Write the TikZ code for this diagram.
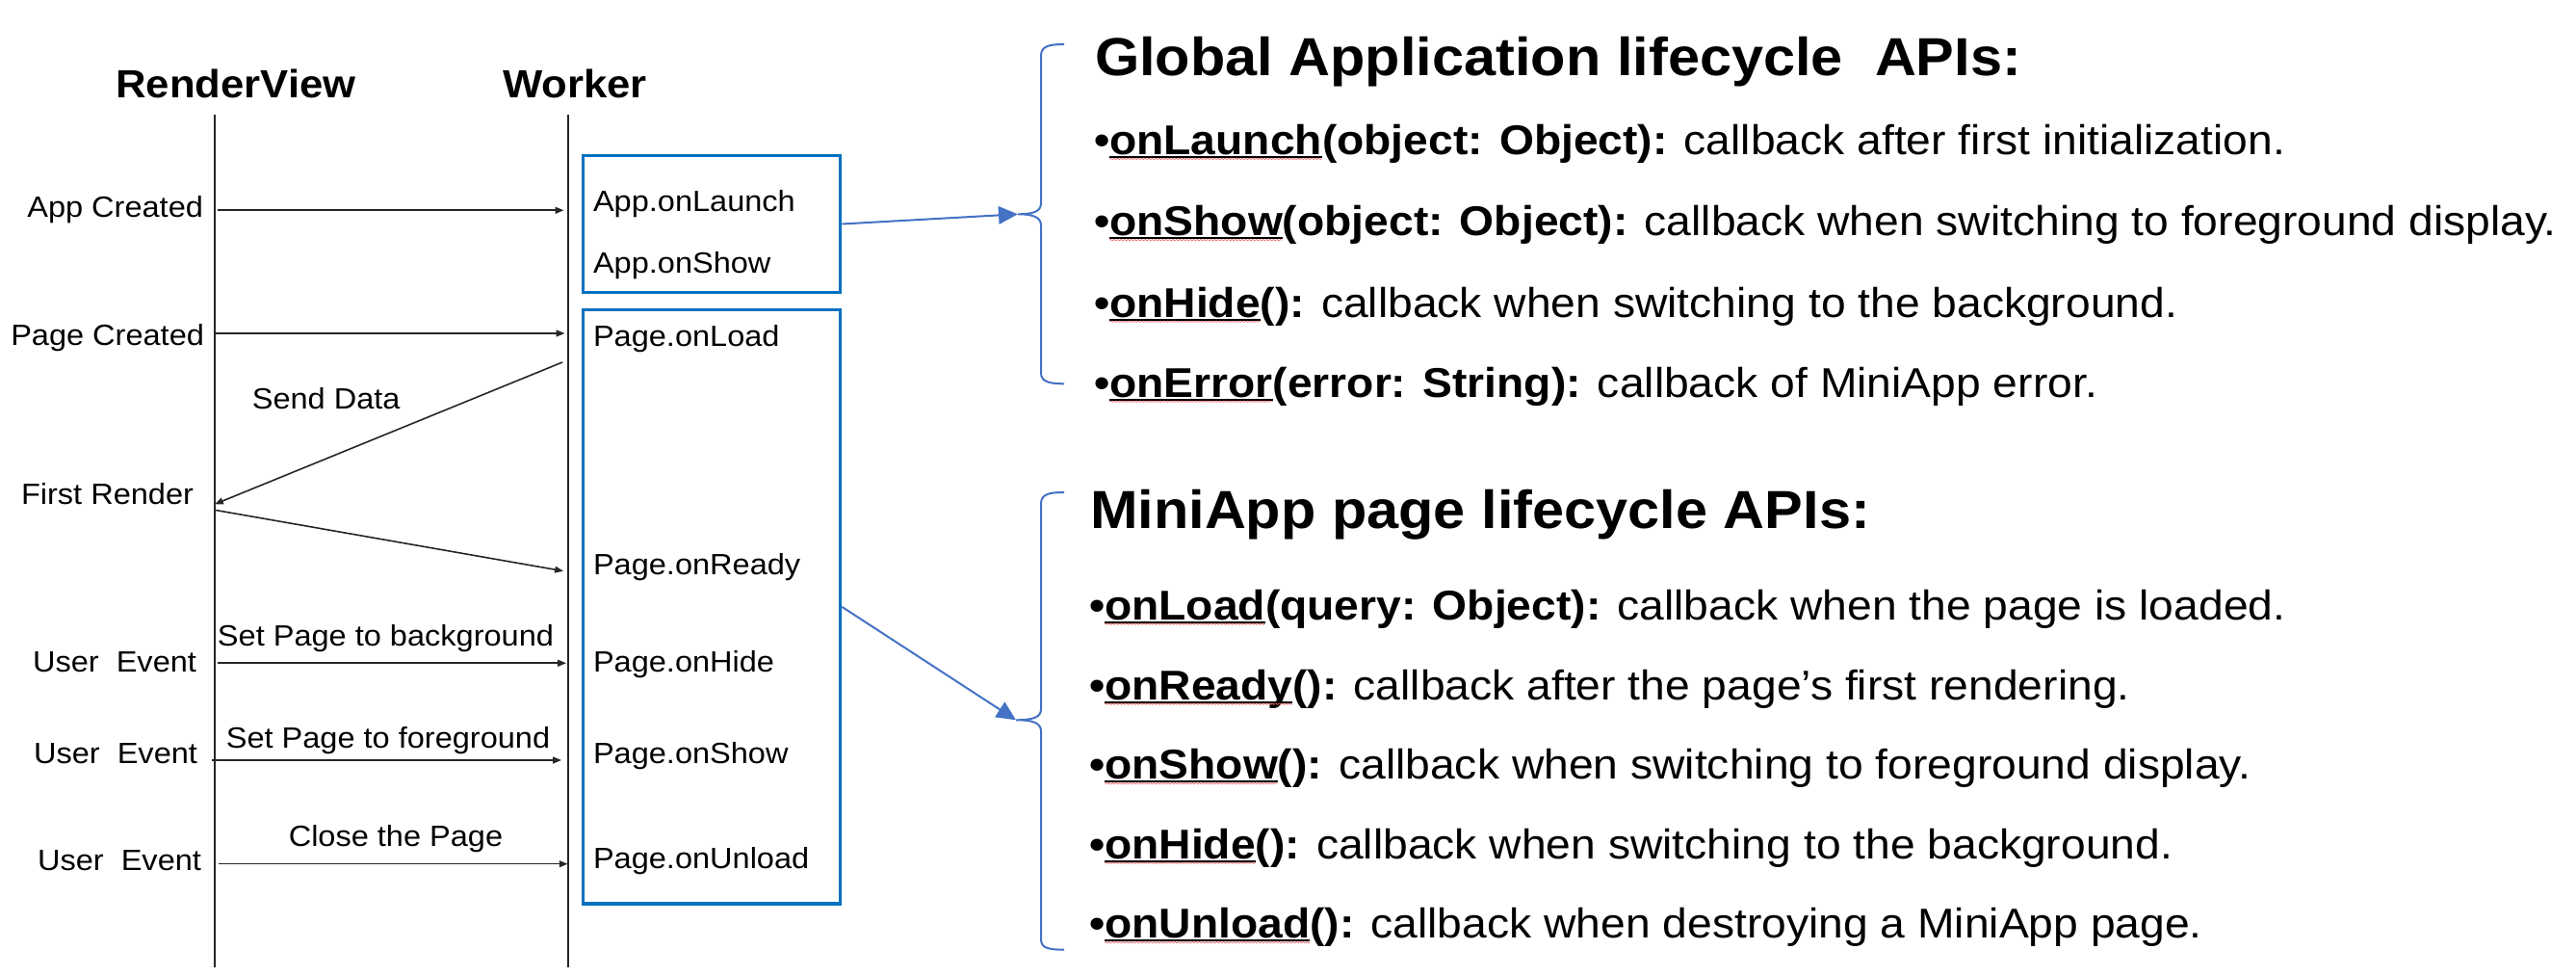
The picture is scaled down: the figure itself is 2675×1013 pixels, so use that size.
\documentclass[tikz,border=0pt]{standalone}
\usepackage{fontspec}
\setmainfont[FakeStretch=1.07]{Liberation Sans}
\usetikzlibrary{arrows.meta,fit,decorations.pathmorphing}
\definecolor{boxblue}{HTML}{0070C0}
\definecolor{lineblue}{HTML}{4472C4}
\definecolor{spellred}{HTML}{F06060}
\newcommand\apiline[5]{%
  \node[bul] (#1b) at #2 {•};
  \node[bul] (#1f) at (#1b.base east) {#3};
  \node[bul] (#1r) at (#1f.base east) {#4 \mdseries #5};
  \draw[spell] ([yshift=-1.05pt]#1f.base west) -- ([yshift=-1.05pt]#1f.base east);
  \draw[ulin] ([yshift=-0.55pt]#1f.base west) -- ([yshift=-0.55pt]#1f.base east);
}
\begin{document}
\begin{tikzpicture}[x=0.25pt,y=-0.25pt,
  lbl/.style={inner sep=0pt, outer sep=0pt, font=\fontsize{7.6pt}{9pt}\selectfont},
  hdr/.style={inner sep=0pt, outer sep=0pt, anchor=base, font=\fontsize{10.2pt}{12pt}\selectfont\bfseries},
  ttl/.style={inner sep=0pt, outer sep=0pt, anchor=base west, font=\fontsize{13.9pt}{16pt}\selectfont\bfseries},
  bul/.style={inner sep=0pt, outer sep=0pt, anchor=base west, font=\fontsize{10.8pt}{13pt}\selectfont\bfseries},
  life/.style={draw=black!85, line width=0.4pt},
  msg/.style={draw=black!85, line width=0.4pt, -{Triangle[length=2.2pt,width=1.7pt]}},
  lbox/.style={draw=boxblue, line width=0.85pt, inner sep=0pt},
  conn/.style={draw=lineblue, line width=0.5pt, -{Triangle[length=5pt,width=4.6pt]}},
  brace/.style={draw=lineblue, line width=0.5pt},
  ulin/.style={draw=black, line width=0.55pt},
  spell/.style={draw=spellred, line width=0.15pt, decorate, decoration={snake, amplitude=0.18pt, segment length=0.9pt}}
]
\useasboundingbox (0,0) rectangle (2675,1013);

% lifelines
\node[hdr] (rvh) at (245,101.7) {RenderView};
\node[hdr] (wkh) at (597,101.7) {Worker};
\coordinate (rvTop) at (223,119); \coordinate (rvBot) at (223,1004);
\coordinate (wkTop) at (590,119); \coordinate (wkBot) at (590,1004);
\draw[life] (rvTop) -- (rvBot);
\draw[life] (wkTop) -- (wkBot);

% boxes
\node[lbox, fit={(605.6,161.7) (872.6,303.3)}] (box1) {};
\node[lbox, fit={(605.6,321.7) (872.6,938)}] (box2) {};

% worker labels
\node[lbl, anchor=base west] (wl1) at (616,220) {App.onLaunch};
\node[lbl, anchor=base west] (wl2) at (616,283.3) {App.onShow};
\node[lbl, anchor=base west] (wl3) at (616,359.3) {Page.onLoad};
\node[lbl, anchor=base west] (wl4) at (616,596.7) {Page.onReady};
\node[lbl, anchor=base west] (wl5) at (616,697.3) {Page.onHide};
\node[lbl, anchor=base west] (wl6) at (616,792.7) {Page.onShow};
\node[lbl, anchor=base west] (wl7) at (616,901.7) {Page.onUnload};

% render view labels
\node[lbl, anchor=base east] (rl1) at (211,225.7) {App Created};
\node[lbl, anchor=base east] (rl2) at (212,358.3) {Page Created};
\node[lbl, anchor=base east] (rl3) at (201,524) {First Render};
\node[lbl, anchor=base east] (rl4) at (204,697.3) {User\ \ Event};
\node[lbl, anchor=base east] (rl5) at (205,792.7) {User\ \ Event};
\node[lbl, anchor=base east] (rl6) at (209,903.3) {User\ \ Event};

% message labels
\node[lbl, anchor=base] (ml1) at (338.7,425) {Send Data};
\node[lbl, anchor=base] (ml2) at (400.5,670.7) {Set Page to background};
\node[lbl, anchor=base] (ml3) at (403,776.7) {Set Page to foreground};
\node[lbl, anchor=base] (ml4) at (411,878.3) {Close the Page};

% messages
\coordinate (m1s) at (225.6,218.3); \coordinate (m1e) at (585.5,218.3);
\coordinate (m2s) at (223.9,346);   \coordinate (m2e) at (586.5,346);
\coordinate (m3s) at (584,376);     \coordinate (m3e) at (223,523.3);
\coordinate (m4s) at (222.7,529.3); \coordinate (m4e) at (585,592.7);
\coordinate (m5s) at (225.6,688.3); \coordinate (m5e) at (588,688.3);
\coordinate (m6s) at (220,789);     \coordinate (m6e) at (583,789);
\coordinate (m7s) at (226.7,896.7); \coordinate (m7e) at (589.6,896.7);
\draw[msg] (m1s) -- (m1e);
\draw[msg] (m2s) -- (m2e);
\draw[msg] (m3s) -- (m3e);
\draw[msg] (m4s) -- (m4e);
\draw[msg] (m5s) -- (m5e);
\draw[msg] (m6s) -- (m6e);
\draw[msg] (m7s) -- (m7e);

% braces
\coordinate (g1tip) at (1057,222.3);
\coordinate (g2tip) at (1055,747.3);
\draw[brace] (1105,46) .. controls (1089,46) and (1081,48) .. (1081,58) -- (1081,211)
  .. controls (1081,219) and (1074,222.3) .. (g1tip)
  .. controls (1074,222.3) and (1081,226) .. (1081,234) -- (1081,387)
  .. controls (1081,396) and (1089,398.3) .. (1105,398.3);
\draw[brace] (1105,511) .. controls (1089,511) and (1081,513) .. (1081,523) -- (1081,736)
  .. controls (1081,744) and (1074,747.3) .. (g2tip)
  .. controls (1074,747.3) and (1081,751) .. (1081,759) -- (1081,975)
  .. controls (1081,984) and (1089,985.7) .. (1105,985.7);

% connectors
\draw[conn] (box1.east) -- (g1tip);
\draw[conn] (box2.east) -- (g2tip);

% global APIs
\node[ttl] (t1) at (1137,78.3) {Global Application lifecycle\ \ APIs:};
\apiline{ga}{(1136,160.7)}{onLaunch}{(object: Object):}{callback after first initialization.}
\apiline{gb}{(1136,245)}{onShow}{(object: Object):}{callback when switching to foreground display.}
\apiline{gc}{(1136,329.5)}{onHide}{():}{callback when switching to the background.}
\apiline{gd}{(1136,412.5)}{onError}{(error: String):}{callback of MiniApp error.}

% page APIs
\node[ttl] (t2) at (1132,548.3) {MiniApp page lifecycle APIs:};
\apiline{pa}{(1131,643.5)}{onLoad}{(query: Object):}{callback when the page is loaded.}
\apiline{pb}{(1131,726.5)}{onReady}{():}{callback after the page’s first rendering.}
\apiline{pc}{(1131,809)}{onShow}{():}{callback when switching to foreground display.}
\apiline{pd}{(1131,891.5)}{onHide}{():}{callback when switching to the background.}
\apiline{pe}{(1131,974)}{onUnload}{():}{callback when destroying a MiniApp page.}
\end{tikzpicture}
\end{document}
